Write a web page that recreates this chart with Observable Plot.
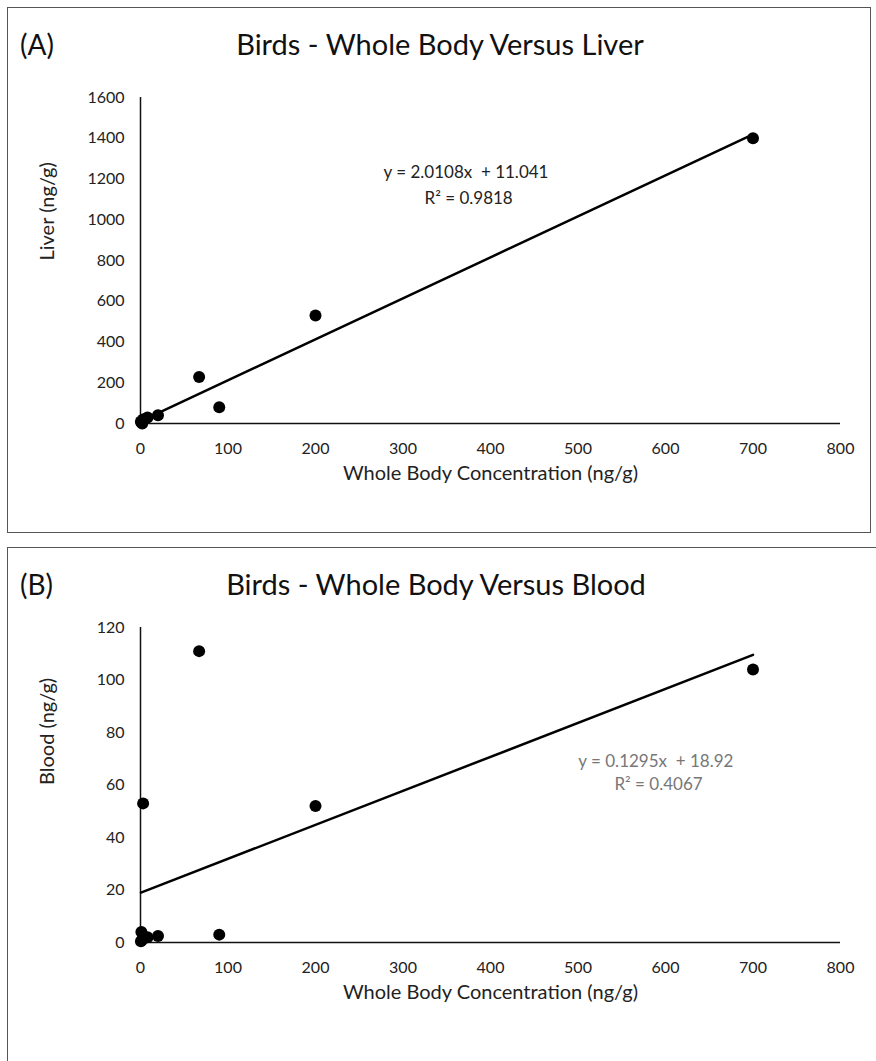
<!DOCTYPE html>
<html>
<head>
<meta charset="utf-8">
<script src="https://cdn.jsdelivr.net/npm/d3@7"></script>
<script src="https://cdn.jsdelivr.net/npm/@observablehq/plot@0.6"></script>
<style>
  html, body { margin: 0; padding: 0; background: #fff; overflow: hidden; }
  body { width: 876px; height: 1061px; position: relative; font-family: Lato, "Open Sans", sans-serif; color: #222; }
  .frame { position: absolute; border: 1.5px solid #555; box-sizing: border-box; }
  .lbl { position: absolute; font-size: 28px; line-height: 1; color: #111; white-space: nowrap; }
  .ttl { position: absolute; font-size: 29px; line-height: 1; color: #111; white-space: nowrap; transform: translateX(-50%); }
  .chart { position: absolute; left: 0; }
</style>
</head>
<body>
<div class="frame" style="left:7px; top:7px; width:864px; height:526px;"></div>
<div class="frame" style="left:7px; top:547px; width:900px; height:600px;"></div>
<div class="lbl" style="left:20px; top:30px;">(A)</div>
<div class="ttl" style="left:440px; top:29px;">Birds - Whole Body Versus Liver</div>
<div class="lbl" style="left:20px; top:570px;">(B)</div>
<div class="ttl" style="left:436px; top:569px;">Birds - Whole Body Versus Blood</div>
<div id="chartA" class="chart" style="top:0px;"></div>
<div id="chartB" class="chart" style="top:540px;"></div>
<script>
// ---- data ----
const wholeBodyA = [700, 200, 67, 90, 20, 8, 3, 1, 0.5, 2];
const liver      = [1400, 530, 228, 80, 40, 30, 20, 5, 10, 0];
const wholeBodyB = [700, 67, 200, 3, 90, 20, 8, 1, 0.5, 2];
const blood      = [104, 111, 52, 53, 3, 2.5, 2, 4, 0.5, 1];
const fitA = {slope: 2.0108, intercept: 11.041, r2: "0.9818"};
const fitB = {slope: 0.1295, intercept: 18.92, r2: "0.4067"};
const xTicks = [0, 100, 200, 300, 400, 500, 600, 700, 800];
const yTicksA = [0, 200, 400, 600, 800, 1000, 1200, 1400, 1600];
const yTicksB = [0, 20, 40, 60, 80, 100, 120];

function makeChart({xs, ys, fit, yTicks, yMax, yLabel, eqColor, eqX, eqY, r2Y, height, marginTop, marginBottom}) {
  const pts = xs.map((x, i) => ({x, y: ys[i]}));
  const x0 = d3.min(xs), x1 = d3.max(xs);
  const line = [x0, x1].map(x => ({x, y: fit.slope * x + fit.intercept}));
  return Plot.plot({
    width: 876,
    height,
    marginLeft: 140,
    marginRight: 36,
    marginTop,
    marginBottom,
    style: {fontFamily: "Lato, 'Open Sans', sans-serif", fontSize: "15px", color: "#222", background: "transparent", overflow: "visible"},
    x: {domain: [0, 800], ticks: xTicks, tickSize: 0, label: null},
    y: {domain: [0, yMax], ticks: yTicks, tickSize: 0, label: null},
    marks: [
      Plot.axisX({ticks: xTicks, tickSize: 0, tickPadding: 19, fontSize: 16, fill: "#222", label: null, tickFormat: d3.format("d")}),
      Plot.axisY({ticks: yTicks, tickSize: 0, tickPadding: 16, fontSize: 16, fill: "#222", label: null, tickFormat: d3.format("d")}),
      Plot.text(["Whole Body Concentration (ng/g)"], {frameAnchor: "bottom", dy: 56, fontSize: 20, fill: "#222"}),
      Plot.text([yLabel], {frameAnchor: "left", dx: -93, rotate: -90, fontSize: 20, fill: "#222"}),
      Plot.ruleY([0], {stroke: "#111", strokeWidth: 1.5}),
      Plot.ruleX([0], {stroke: "#111", strokeWidth: 1.5}),
      Plot.line(line, {x: "x", y: "y", stroke: "#000", strokeWidth: 2.5}),
      Plot.dot(pts, {x: "x", y: "y", r: 6, fill: "#000", stroke: "none"}),
      Plot.text([`y = ${fit.slope}x  + ${fit.intercept}`], {x: eqX, y: eqY, fontSize: 17, fill: eqColor}),
      Plot.text([`R² = ${fit.r2}`], {x: eqX + 3, y: r2Y, fontSize: 17, fill: eqColor})
    ]
  });
}

document.getElementById("chartA").append(makeChart({
  xs: wholeBodyA, ys: liver, fit: fitA, yTicks: yTicksA, yMax: 1600,
  yLabel: "Liver (ng/g)", eqColor: "#222", eqX: 372, eqY: 1230, r2Y: 1103,
  height: 540, marginTop: 97, marginBottom: 117
}));
document.getElementById("chartB").append(makeChart({
  xs: wholeBodyB, ys: blood, fit: fitB, yTicks: yTicksB, yMax: 120,
  yLabel: "Blood (ng/g)", eqColor: "#777", eqX: 589, eqY: 69, r2Y: 60,
  height: 521, marginTop: 87, marginBottom: 119
}));
</script>
</body>
</html>
